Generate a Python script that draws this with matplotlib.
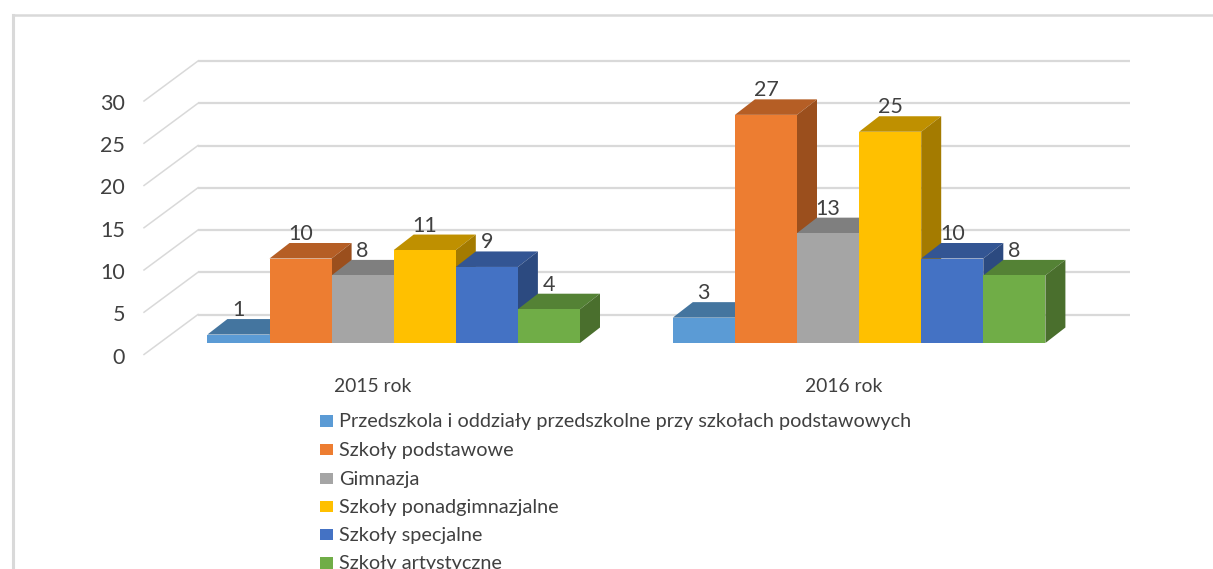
import matplotlib
matplotlib.use('Agg')
import matplotlib.pyplot as plt
from matplotlib.patches import Polygon, Rectangle

plt.rcParams['font.family'] = ['Lato', 'DejaVu Sans']

# dane
lata = ['2015 rok', '2016 rok']
szkoly = ['Przedszkola i oddziały przedszkolne przy szkołach podstawowych',
          'Szkoły podstawowe', 'Gimnazja', 'Szkoły ponadgimnazjalne',
          'Szkoły specjalne', 'Szkoły artystyczne']
wartosci_2015 = [1, 10, 8, 11, 9, 4]
wartosci_2016 = [3, 27, 13, 25, 10, 8]
ticks = [0, 5, 10, 15, 20, 25, 30]

kolory = ['#5B9BD5', '#ED7D31', '#A5A5A5', '#FFC000', '#4472C4', '#70AD47']
gora = ['#44759F', '#B55E25', '#7F7F7F', '#BF9000', '#335593', '#548235']
bok = ['#3B6489', '#9B4F1D', '#6F6F6F', '#A47B00', '#2C4A80', '#4A6F2D']

W, H = 1213, 569
PX_X = 465.4    # pikseli na kategorie
PX_Y = 8.45     # pikseli na jednostke
X0, Y0 = 393.7, 343

fig = plt.figure(figsize=(W / 100, H / 100), dpi=100)
ax = fig.add_axes([0, 0, 1, 1])
ax.set_xlim(-X0 / PX_X, (W - X0) / PX_X)
ax.set_ylim(-(H - Y0) / PX_Y, Y0 / PX_Y)
ax.axis('off')


def dx(px):
    return px / PX_X


def dy(px):
    return px / PX_Y


def xpx(px):
    return (px - X0) / PX_X


def ypx(px):
    return (Y0 - px) / PX_Y


# ramka (tylko lewa i gorna krawedz, reszta obcieta)
ax.plot([xpx(12.5), xpx(12.5)], [ypx(569), ypx(15)], color='#D9D9D9', lw=2.2, zorder=1,
        solid_capstyle='projecting')
ax.plot([xpx(12.5), xpx(1213)], [ypx(15), ypx(15)], color='#D9D9D9', lw=1.8, zorder=1)

# siatka 3D
for t in ticks:
    y_back = t + dy(28.5)
    y_front = t - dy(11.5)
    ax.plot([xpx(144), xpx(198)], [y_front, y_back], color='#D9D9D9', lw=1.1, zorder=1)
    ax.plot([xpx(198), xpx(1130)], [y_back, y_back], color='#D9D9D9', lw=1.6, zorder=1,
            solid_capstyle='butt')
    ax.text(xpx(125), y_front - dy(3), str(t), ha='right', va='center', fontsize=15.5, color='#404040')

# slupki
szer = 62.1 / PX_X
gleb_x = dx(20)
gleb_y = dy(15.5)
z = 2
for i, wartosci in enumerate([wartosci_2015, wartosci_2016]):
    for j, v in enumerate(wartosci):
        left = i + (j - 3) * szer
        right = left + szer
        ax.add_patch(Polygon([(left, v), (right, v), (right + gleb_x, v + gleb_y), (left + gleb_x, v + gleb_y)],
                             facecolor=gora[j], edgecolor='none', zorder=z))
        ax.add_patch(Polygon([(right, 0), (right + gleb_x, gleb_y), (right + gleb_x, v + gleb_y), (right, v)],
                             facecolor=bok[j], edgecolor='none', zorder=z))
        ax.bar(left, v, width=szer, align='edge', color=kolory[j], zorder=z + 0.5)
        ax.text(left + szer / 2, v + dy(24.5), str(v), ha='center', va='center',
                fontsize=15.5, color='#404040', zorder=10)
        z += 1

# etykiety osi
ax.text(xpx(373), ypx(387), lata[0], ha='center', va='center', fontsize=13.9, color='#404040')
ax.text(xpx(844), ypx(387), lata[1], ha='center', va='center', fontsize=13.9, color='#404040')

# legenda
leg_y = [421, 449.7, 478.5, 506.5, 534.5, 563]
for nazwa, kolor, yp in zip(szkoly, kolory, leg_y):
    ax.add_patch(Rectangle((xpx(320), ypx(yp + 5.7)), dx(12.5), dy(11.4), facecolor=kolor, edgecolor='none'))
    ax.text(xpx(339), ypx(yp + 0.5), nazwa, ha='left', va='center', fontsize=14.35, color='#404040')

fig.savefig('out.png', dpi=100)
